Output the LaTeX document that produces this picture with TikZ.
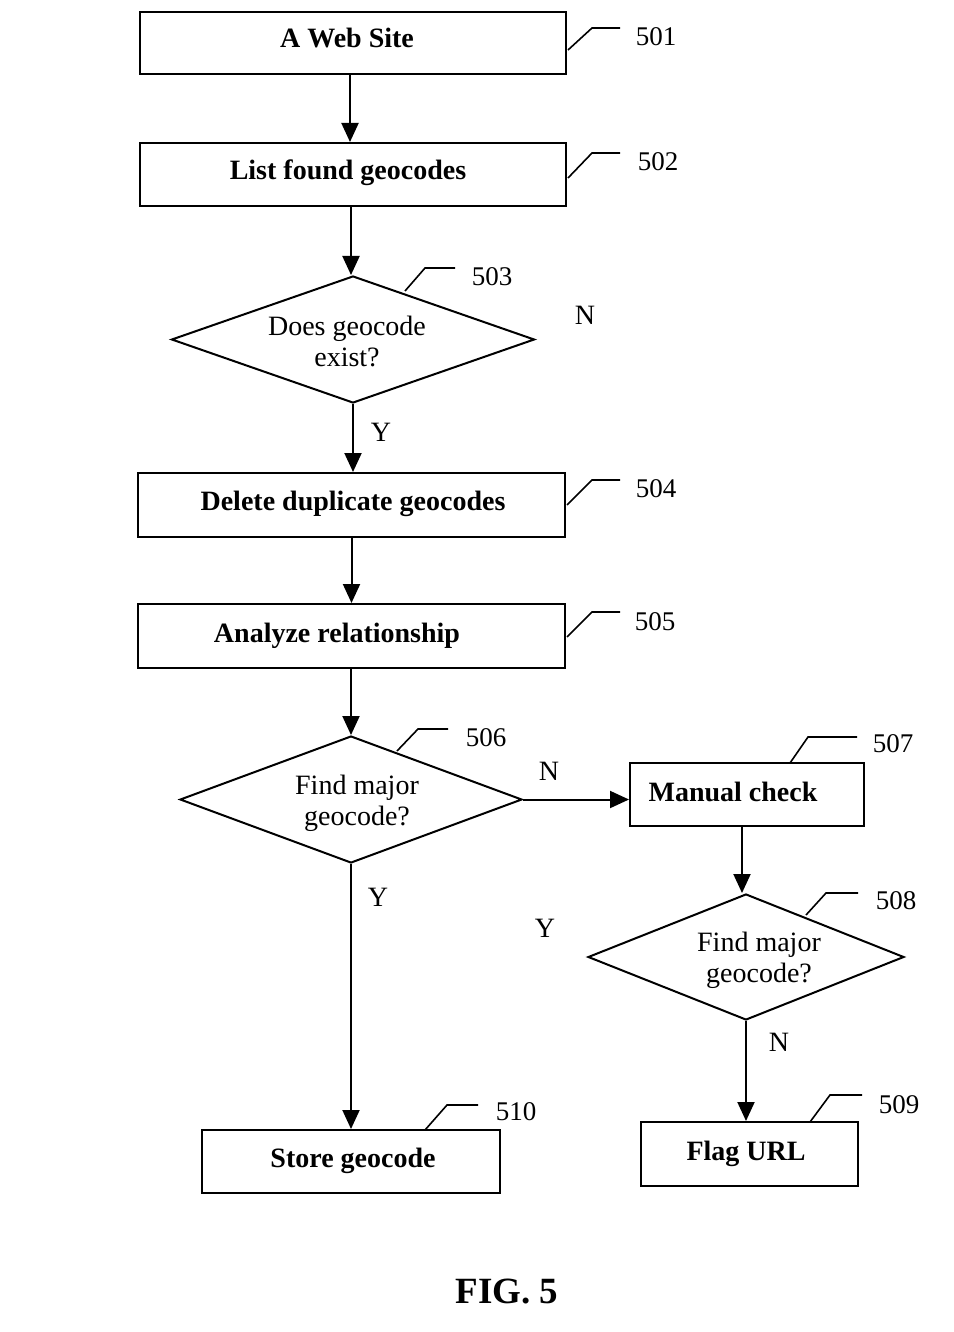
\documentclass[tikz,border=0pt]{standalone}
\usepackage{fontspec}
\setmainfont{Liberation Serif}
\usetikzlibrary{arrows.meta,shapes.geometric}
\begin{document}
\begin{tikzpicture}[x=0.5pt,y=-0.5pt,
  box/.style={draw,line width=1pt,rectangle,inner sep=0pt},
  dia/.style={draw,line width=1pt,diamond,inner sep=0pt},
  btxt/.style={font=\fontsize{14}{16}\selectfont\bfseries,inner sep=0pt,anchor=base},
  dtxt/.style={font=\fontsize{14}{15.5}\selectfont,align=center,inner sep=0pt},
  yn/.style={font=\fontsize{14}{16}\selectfont,inner sep=0pt},
  num/.style={font=\fontsize{13.5}{16}\selectfont,inner sep=0pt},
  lead/.style={line width=0.8pt},
  arr/.style={line width=1pt,-{Triangle[length=9.5pt,width=8.5pt]}},
]
\useasboundingbox (0,0) rectangle (953,1332);

% boxes
\node[box,minimum width=213pt,minimum height=31pt] (b501) at (353,43) {};
\node[box,minimum width=213pt,minimum height=31.5pt] (b502) at (353,174.5) {};
\node[dia,minimum width=181.5pt,minimum height=63.5pt] (d503) at (353,339.5) {};
\node[box,minimum width=213.5pt,minimum height=32pt] (b504) at (351.5,505) {};
\node[box,minimum width=213.5pt,minimum height=32pt] (b505) at (351.5,636) {};
\node[dia,minimum width=171pt,minimum height=63.5pt] (d506) at (351,799.5) {};
\node[box,minimum width=117pt,minimum height=31.5pt] (b507) at (747,794.5) {};
\node[dia,minimum width=158pt,minimum height=63pt] (d508) at (746,957) {};
\node[box,minimum width=108.5pt,minimum height=32pt] (b509) at (749.5,1154) {};
\node[box,minimum width=149pt,minimum height=31.5pt] (b510) at (351,1161.5) {};

% texts
\node[btxt] (t501) at (347,48) {A Web Site};
\node[btxt] (t502) at (348,180) {List found geocodes};
\node[dtxt] (t503) at (347,341) {Does geocode\\exist?};
\node[btxt] (t504) at (353,510) {Delete duplicate geocodes};
\node[btxt] (t505) at (337,642) {Analyze relationship};
\node[dtxt] (t506) at (357,803) {Find major\\geocode?};
\node[btxt] (t507) at (733,801) {Manual check};
\node[dtxt] (t508) at (759,960) {Find major\\geocode?};
\node[btxt] (t509) at (746,1160) {Flag URL};
\node[btxt] (t510) at (353,1167) {Store geocode};

% reference numbers with leaders
\draw[lead] (568,50) -- (592,28) -- (620,28);
\node[num] (n501) at (656,37) {501};
\draw[lead] (568,178) -- (592,153) -- (620,153);
\node[num] (n502) at (658,162) {502};
\draw[lead] (405,291) -- (425,268) -- (455,268);
\node[num] (n503) at (492,277) {503};
\draw[lead] (567,505) -- (592,480) -- (620,480);
\node[num] (n504) at (656,489) {504};
\draw[lead] (567,637) -- (592,612) -- (620,612);
\node[num] (n505) at (655,622) {505};
\draw[lead] (397,751) -- (418,729) -- (448,729);
\node[num] (n506) at (486,738) {506};
\draw[lead] (790,763) -- (808,737) -- (857,737);
\node[num] (n507) at (893,744) {507};
\draw[lead] (806,915) -- (826,893) -- (858,893);
\node[num] (n508) at (896,901) {508};
\draw[lead] (810,1122) -- (830,1095) -- (862,1095);
\node[num] (n509) at (899,1105) {509};
\draw[lead] (425,1130) -- (447,1105) -- (478,1105);
\node[num] (n510) at (516,1112) {510};

% connectors
\draw[arr] (b501.south -| t502) ++(2,0) coordinate (a1) -- (a1 |- b502.north);
\draw[arr] (b502.south -| d503.north) ++(-2,0) coordinate (a2) -- (a2 |- d503.north);
\draw[arr] (d503.south) -- (b504.north -| d503.south);
\draw[arr] (b504.south) -- (b505.north);
\draw[arr] (b505.south -| d506.north) -- (d506.north);
\draw[arr] (d506.east) -- (d506.east -| b507.west);
\draw[arr] (b507.south -| 742,0) coordinate (a7) -- (a7 |- d508.north);
\draw[arr] (d508.south) -- (b509.north -| d508.south);
\draw[arr] (d506.south) -- (b510.north);

% Y / N labels
\node[yn] (y503) at (381,432) {Y};
\node[yn] (n503l) at (585,315) {N};
\node[yn] (n506l) at (549,771) {N};
\node[yn] (y506) at (378,897) {Y};
\node[yn] (y508) at (545,928) {Y};
\node[yn] (n508l) at (779,1042) {N};

\node[font=\fontsize{18.5}{20}\selectfont\bfseries,inner sep=0pt] (fig) at (507,1291) {FIG. 5};
\end{tikzpicture}
\end{document}
